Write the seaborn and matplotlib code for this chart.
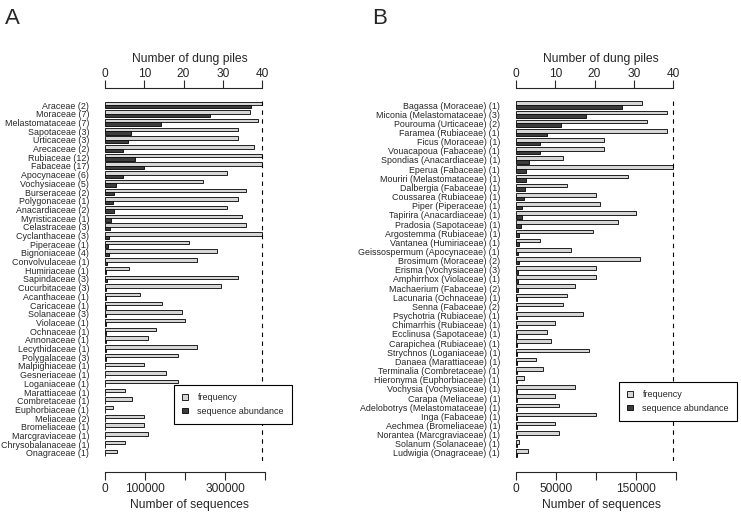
import pandas as pd
import matplotlib
matplotlib.use('Agg')
import matplotlib.pyplot as plt
import seaborn as sns
from matplotlib.patches import Patch

# panel A: plant families (number of genera in brackets)
families_a = [
    'Araceae (2)', 'Moraceae (7)', 'Melastomataceae (7)', 'Sapotaceae (3)', 'Urticaceae (3)',
    'Arecaceae (2)', 'Rubiaceae (12)', 'Fabaceae (17)', 'Apocynaceae (6)', 'Vochysiaceae (5)',
    'Burseraceae (2)', 'Polygonaceae (1)', 'Anacardiaceae (2)', 'Myristicaceae (1)', 'Celastraceae (3)',
    'Cyclanthaceae (3)', 'Piperaceae (1)', 'Bignoniaceae (4)', 'Convolvulaceae (1)', 'Humiriaceae (1)',
    'Sapindaceae (3)', 'Cucurbitaceae (3)', 'Acanthaceae (1)', 'Caricaceae (1)', 'Solanaceae (3)',
    'Violaceae (1)', 'Ochnaceae (1)', 'Annonaceae (1)', 'Lecythidaceae (1)', 'Polygalaceae (3)',
    'Malpighiaceae (1)', 'Gesneriaceae (1)', 'Loganiaceae (1)', 'Marattiaceae (1)', 'Combretaceae (1)',
    'Euphorbiaceae (1)', 'Meliaceae (2)', 'Bromeliaceae (1)', 'Marcgraviaceae (1)', 'Chrysobalanaceae (1)',
    'Onagraceae (1)',
]
freq_a = [40, 37, 39, 34, 34, 38, 40, 40, 31, 25,
          36, 34, 31, 35, 36, 40, 21.5, 28.5, 23.5, 6,
          34, 29.5, 9, 14.5, 19.5, 20.5, 13, 11, 23.5, 18.5,
          10, 15.5, 18.5, 5, 7, 2, 10, 10, 11, 5, 3]
seqs_a = [364000, 262000, 140000, 64000, 57000, 46000, 75000, 97000, 44000, 27000,
          22000, 21000, 22000, 14000, 12000, 11000, 7500, 10000, 4000, 2500,
          5000, 2500, 1500, 1500, 1500, 1500, 1500, 1500, 1500, 1500,
          1200, 1200, 1200, 800, 800, 800, 800, 800, 800, 800, 800]

# panel B: genera (family, number of OTUs)
genera_b = [
    'Bagassa (Moraceae) (1)', 'Miconia (Melastomataceae) (3)', 'Pourouma (Urticaceae) (2)',
    'Faramea (Rubiaceae) (1)', 'Ficus (Moraceae) (1)', 'Vouacapoua (Fabaceae) (1)',
    'Spondias (Anacardiaceae) (1)', 'Eperua (Fabaceae) (1)', 'Mouriri (Melastomataceae) (1)',
    'Dalbergia (Fabaceae) (1)', 'Coussarea (Rubiaceae) (1)', 'Piper (Piperaceae) (1)',
    'Tapirira (Anacardiaceae) (1)', 'Pradosia (Sapotaceae) (1)', 'Argostemma (Rubiaceae) (1)',
    'Vantanea (Humiriaceae) (1)', 'Geissospermum (Apocynaceae) (1)', 'Brosimum (Moraceae) (2)',
    'Erisma (Vochysiaceae) (3)', 'Amphirrhox (Violaceae) (1)', 'Machaerium (Fabaceae) (2)',
    'Lacunaria (Ochnaceae) (1)', 'Senna (Fabaceae) (2)', 'Psychotria (Rubiaceae) (1)',
    'Chimarrhis (Rubiaceae) (1)', 'Ecclinusa (Sapotaceae) (1)', 'Carapichea (Rubiaceae) (1)',
    'Strychnos (Loganiaceae) (1)', 'Danaea (Marattiaceae) (1)', 'Terminalia (Combretaceae) (1)',
    'Hieronyma (Euphorbiaceae) (1)', 'Vochysia (Vochysiaceae) (1)', 'Carapa (Meliaceae) (1)',
    'Adelobotrys (Melastomataceae) (1)', 'Inga (Fabaceae) (1)', 'Aechmea (Bromeliaceae) (1)',
    'Norantea (Marcgraviaceae) (1)', 'Solanum (Solanaceae) (1)', 'Ludwigia (Onagraceae) (1)',
]
freq_b = [32, 38.5, 33.5, 38.5, 22.5, 22.5, 12, 40, 28.5, 13,
          20.5, 21.5, 30.5, 26, 19.5, 6, 14, 31.5, 20.5, 20.5,
          15, 13, 12, 17, 10, 8, 9, 18.5, 5, 7,
          2, 15, 10, 11, 20.5, 10, 11, 0.8, 3]
seqs_b = [132500, 87000, 56000, 39000, 30000, 30000, 16000, 12500, 12500, 11000,
          9500, 7500, 7500, 6700, 4200, 3800, 2000, 3800, 2500, 2000,
          2000, 1500, 1500, 700, 700, 700, 700, 700, 700, 700,
          700, 700, 700, 700, 700, 700, 700, 700, 700]

sns.set_style('ticks')
plt.rcParams['font.family'] = ['Liberation Sans', 'DejaVu Sans']

LIGHT = '#d6d6d6'
DARK = '#3c3c3c'
levels = ['frequency', 'sequence abundance']
pal = {'frequency': LIGHT, 'sequence abundance': DARK}

W, H = 741, 514
fig = plt.figure(figsize=(W / 100, H / 100), dpi=100)


def panel(left_px, names, freq, seqs, seq_max, seq_ticks, seq_labels, ylim):
    ax = fig.add_axes([left_px / W, 53 / H, 170 / W, 364 / H])
    ax_top = ax.twiny()

    df_s = pd.DataFrame({'name': names, 'value': seqs, 'kind': 'sequence abundance'})
    df_f = pd.DataFrame({'name': names, 'value': freq, 'kind': 'frequency'})
    common = dict(x='value', y='name', hue='kind', hue_order=levels, palette=pal,
                  orient='h', width=0.8, dodge=True, saturation=1, errorbar=None,
                  edgecolor='black', linewidth=0.6, legend=False)
    sns.barplot(data=df_s, ax=ax, **common)
    sns.barplot(data=df_f, ax=ax_top, **common)

    ax.set_xlim(0, seq_max)
    ax_top.set_xlim(0, 170 / 3.925)
    ax.set_ylim(*ylim)

    ax_top.axvline(40, color='black', lw=0.8, ls=(0, (4, 4)))

    # R style axes: only the two horizontal axis lines
    for s in ['top', 'left', 'right']:
        ax.spines[s].set_visible(False)
    for s in ['bottom', 'left', 'right']:
        ax_top.spines[s].set_visible(False)
    ax.spines['bottom'].set_position(('outward', 8))
    ax.spines['bottom'].set_bounds(0, seq_ticks[-1])
    ax_top.spines['top'].set_position(('outward', 6.5))
    ax_top.spines['top'].set_bounds(0, 40)
    ax.spines['bottom'].set_linewidth(0.8)
    ax_top.spines['top'].set_linewidth(0.8)

    ax.set_xticks(seq_ticks)
    ax.set_xticklabels(seq_labels)
    ax.tick_params(axis='x', length=5.5, width=0.8, pad=2.5, labelsize=8.6)
    ax.tick_params(axis='y', length=0, pad=11.5, labelsize=6.4)
    ax.set_xlabel('Number of sequences', fontsize=8.7, labelpad=3)
    ax.set_ylabel('')

    ax_top.set_xticks([0, 10, 20, 30, 40])
    ax_top.tick_params(axis='x', length=5.5, width=0.8, pad=0.5, labelsize=8.6)
    ax_top.set_xlabel('Number of dung piles', fontsize=8.7, labelpad=4)
    return ax, ax_top


panel(105, families_a, freq_a, seqs_a, 170 / 0.4 * 1000,
      [0, 100000, 200000, 300000, 400000], ['0', '100000', '', '300000', ''],
      (40.92, -0.92))
panel(516, genera_b, freq_b, seqs_b, 170 / 0.8 * 1000,
      [0, 50000, 100000, 150000, 200000], ['0', '50000', '', '150000', ''],
      (38.88, -0.88))

handles = [Patch(facecolor=LIGHT, edgecolor='black', linewidth=0.6, label='frequency'),
           Patch(facecolor=DARK, edgecolor='black', linewidth=0.6, label='sequence abundance')]
for x0, y0 in [(174, 385), (619, 382)]:
    leg = fig.legend(handles=handles, loc='upper left', bbox_to_anchor=(x0 / W, 1 - y0 / H),
                     frameon=True, fancybox=False, edgecolor='black', framealpha=1,
                     fontsize=6.5, handlelength=0.6, handleheight=0.6, borderpad=0.9,
                     labelspacing=0.5, handletextpad=1.1, borderaxespad=0)
    leg.get_frame().set_linewidth(0.8)

fig.text(5 / W, 1 - 8 / H, 'A', fontsize=16, va='top', ha='left')
fig.text(372 / W, 1 - 8 / H, 'B', fontsize=16, va='top', ha='left')

fig.savefig('out.png', dpi=100)
